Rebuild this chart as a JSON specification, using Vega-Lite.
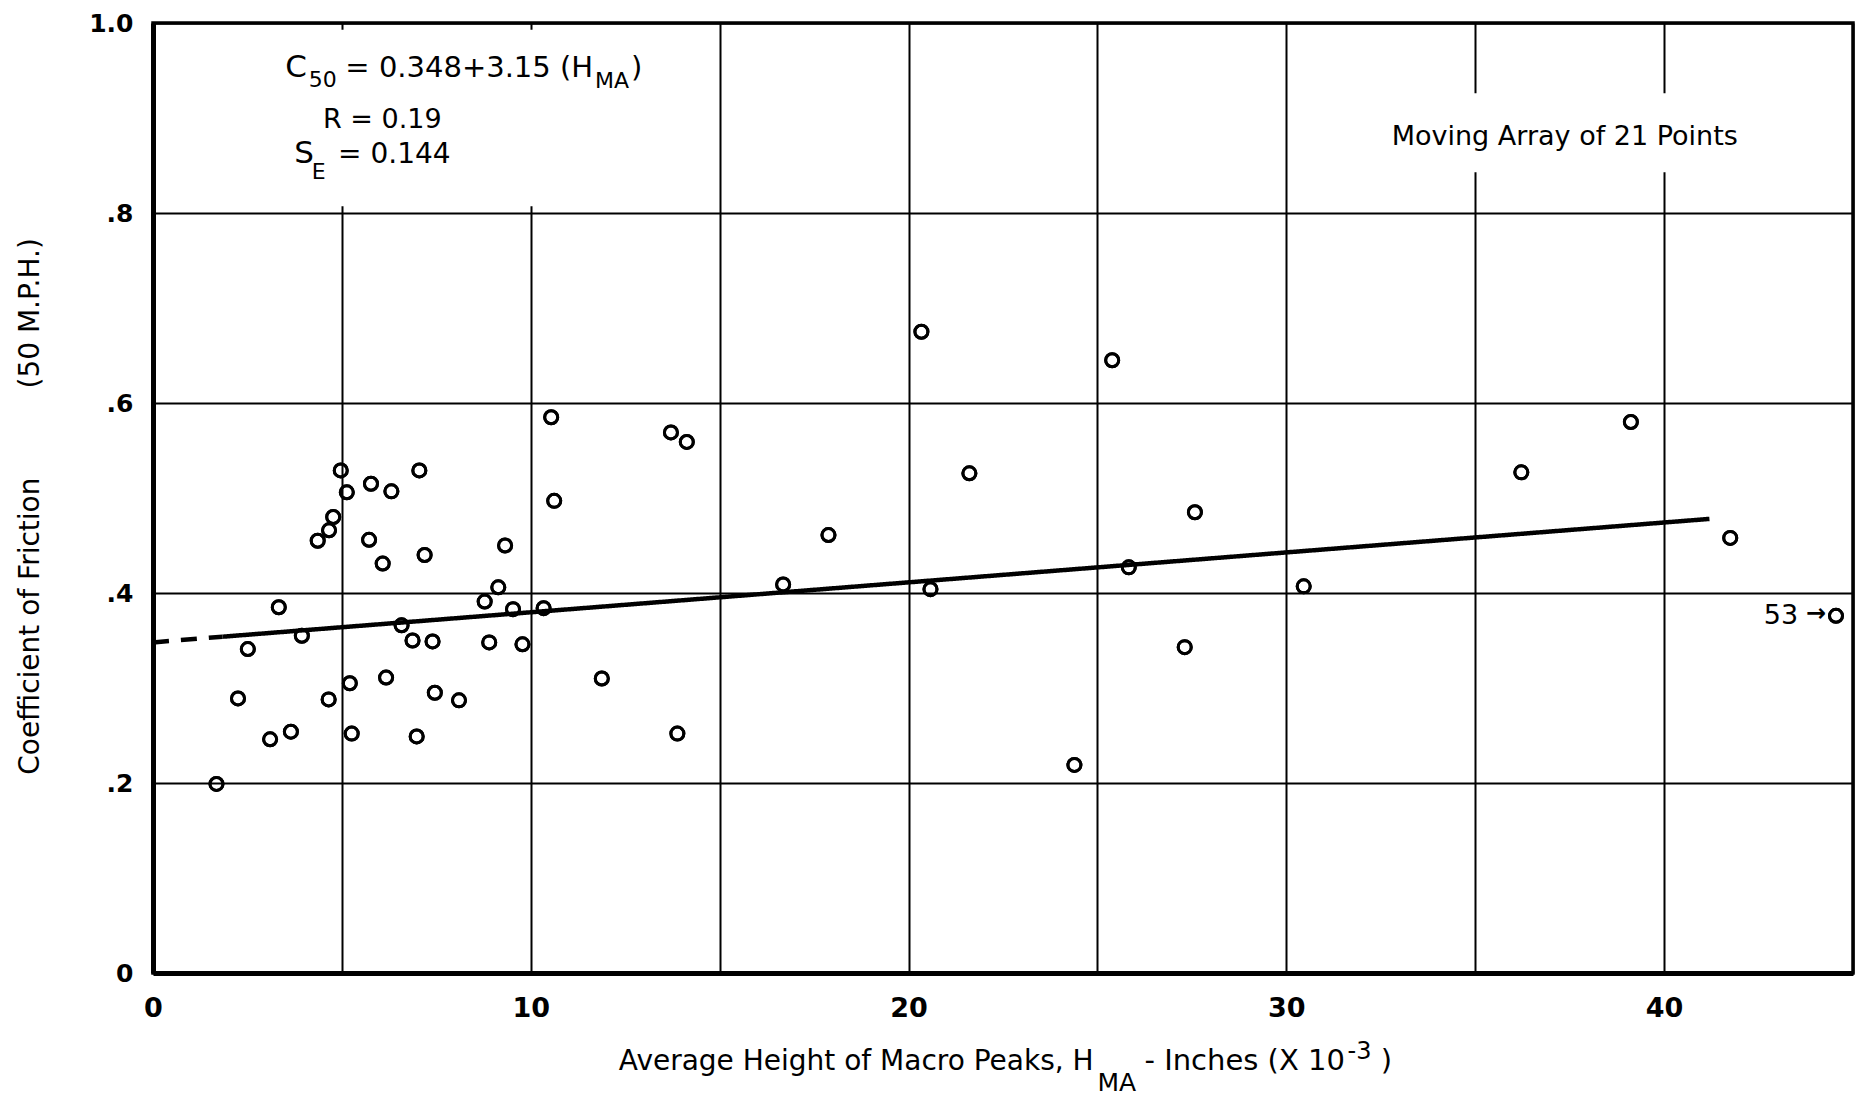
{
  "$schema": "https://vega.github.io/schema/vega-lite/v6.json",
  "width": 1700,
  "height": 950,
  "autosize": {"type": "none"},
  "padding": {"left": 153, "top": 23, "right": 13, "bottom": 127},
  "background": "white",
  "config": {
    "view": {"stroke": "black", "strokeWidth": 3.5},
    "font": "DejaVu Sans",
    "text": {"font": "DejaVu Sans", "color": "black", "baseline": "alphabetic", "align": "left"}
  },
  "datasets": {
    "points": [
      {"hma": 4.97, "cof": 0.529}, {"hma": 5.13, "cof": 0.506}, {"hma": 5.77, "cof": 0.515}, {"hma": 6.31, "cof": 0.507},
      {"hma": 7.05, "cof": 0.529}, {"hma": 10.62, "cof": 0.497}, {"hma": 10.54, "cof": 0.585}, {"hma": 4.77, "cof": 0.48},
      {"hma": 4.66, "cof": 0.466}, {"hma": 4.36, "cof": 0.455}, {"hma": 5.72, "cof": 0.456}, {"hma": 6.08, "cof": 0.431},
      {"hma": 7.19, "cof": 0.44}, {"hma": 9.32, "cof": 0.45}, {"hma": 9.14, "cof": 0.406}, {"hma": 8.78, "cof": 0.391},
      {"hma": 9.53, "cof": 0.383}, {"hma": 10.34, "cof": 0.384}, {"hma": 3.33, "cof": 0.385}, {"hma": 3.94, "cof": 0.355},
      {"hma": 2.51, "cof": 0.341}, {"hma": 6.58, "cof": 0.366}, {"hma": 6.87, "cof": 0.35}, {"hma": 7.4, "cof": 0.349},
      {"hma": 8.9, "cof": 0.348}, {"hma": 9.78, "cof": 0.346}, {"hma": 2.25, "cof": 0.289}, {"hma": 4.65, "cof": 0.288},
      {"hma": 5.21, "cof": 0.305}, {"hma": 6.17, "cof": 0.311}, {"hma": 7.46, "cof": 0.295}, {"hma": 8.1, "cof": 0.287},
      {"hma": 11.88, "cof": 0.31}, {"hma": 3.1, "cof": 0.246}, {"hma": 3.65, "cof": 0.254}, {"hma": 5.26, "cof": 0.252},
      {"hma": 6.98, "cof": 0.249}, {"hma": 1.68, "cof": 0.199},
      {"hma": 20.34, "cof": 0.675}, {"hma": 25.39, "cof": 0.645}, {"hma": 13.71, "cof": 0.569}, {"hma": 14.13, "cof": 0.559},
      {"hma": 21.61, "cof": 0.526}, {"hma": 17.88, "cof": 0.461}, {"hma": 16.68, "cof": 0.409}, {"hma": 20.58, "cof": 0.404},
      {"hma": 25.83, "cof": 0.427}, {"hma": 27.58, "cof": 0.485}, {"hma": 27.31, "cof": 0.343}, {"hma": 24.39, "cof": 0.219},
      {"hma": 13.88, "cof": 0.252},
      {"hma": 39.12, "cof": 0.58}, {"hma": 36.22, "cof": 0.527}, {"hma": 41.75, "cof": 0.458}, {"hma": 30.46, "cof": 0.407},
      {"hma": 44.55, "cof": 0.376}
    ],
    "fit": [
      {"part": "extension", "hma": 0, "cof": 0.348},
      {"part": "extension", "hma": 1.84, "cof": 0.354},
      {"part": "fit", "hma": 1.84, "cof": 0.354},
      {"part": "fit", "hma": 41.2, "cof": 0.478}
    ]
  },
  "layer": [
    {
      "data": {"name": "points"},
      "mark": {"type": "point", "shape": "circle", "filled": false, "stroke": "black", "strokeWidth": 3, "size": 170, "opacity": 1},
      "encoding": {
        "x": {
          "field": "hma", "type": "quantitative",
          "scale": {"domain": [0, 45], "nice": false, "zero": false},
          "axis": {
            "values": [0, 5, 10, 15, 20, 25, 30, 35, 40, 45],
            "labelExpr": "datum.value % 10 == 0 ? (datum.value == 0 ? '0' : format(datum.value, 'd')) : ''",
            "grid": true, "gridColor": "black", "gridWidth": 2, "gridOpacity": 1,
            "domainColor": "black", "domainWidth": 5,
            "ticks": false,
            "labelFont": "DejaVu Sans", "labelFontWeight": "bold", "labelFontSize": 27, "labelColor": "black",
            "labelPadding": 22, "labelOverlap": false, "labelFlush": false,
            "title": null
          }
        },
        "y": {
          "field": "cof", "type": "quantitative",
          "scale": {"domain": [0, 1], "nice": false, "zero": false},
          "axis": {
            "values": [0, 0.2, 0.4, 0.6, 0.8, 1.0],
            "labelExpr": "datum.value == 0 ? '0' : (datum.value == 1 ? '1.0' : replace(format(datum.value, '.1f'), '0.', '.'))",
            "grid": true, "gridColor": "black", "gridWidth": 2, "gridOpacity": 1,
            "domainColor": "black", "domainWidth": 5,
            "ticks": false,
            "labelFont": "DejaVu Sans", "labelFontWeight": "bold", "labelFontSize": 25, "labelColor": "black",
            "labelPadding": 20, "labelOverlap": false, "labelFlush": false,
            "title": "Coefficient of Friction\u00a0\u00a0\u00a0\u00a0\u00a0\u00a0\u00a0\u00a0\u00a0\u00a0(50 M.P.H.)",
            "titleFont": "DejaVu Sans", "titleFontSize": 28, "titleFontWeight": "normal", "titleColor": "black",
            "titleAngle": -90, "titleX": -123, "titleY": 483, "titleAlign": "center", "titleBaseline": "middle"
          }
        }
      }
    },
    {
      "data": {"values": [{}]},
      "mark": {"type": "rect", "fill": "white"},
      "encoding": {
        "x": {"datum": 0.2, "type": "quantitative"},
        "x2": {"datum": 14.8},
        "y": {"datum": 0.807, "type": "quantitative"},
        "y2": {"datum": 0.993}
      }
    },
    {
      "data": {"values": [{}]},
      "mark": {"type": "rect", "fill": "white"},
      "encoding": {
        "x": {"datum": 34.3, "type": "quantitative"},
        "x2": {"datum": 40.8},
        "y": {"datum": 0.843, "type": "quantitative"},
        "y2": {"datum": 0.926}
      }
    },
    {
      "data": {"name": "fit"},
      "mark": {"type": "line", "color": "black", "strokeWidth": 4.5},
      "encoding": {
        "x": {"field": "hma", "type": "quantitative"},
        "y": {"field": "cof", "type": "quantitative"},
        "detail": {"field": "part"},
        "strokeDash": {"field": "part", "type": "nominal", "scale": {"domain": ["extension", "fit"], "range": [[16, 12], [1, 0]]}, "legend": null}
      }
    },
    {
      "data": {"name": "points"},
      "mark": {"type": "point", "shape": "circle", "filled": false, "stroke": "black", "strokeWidth": 3, "size": 170, "opacity": 1},
      "encoding": {
        "x": {"field": "hma", "type": "quantitative"},
        "y": {"field": "cof", "type": "quantitative"}
      }
    },
    {"data": {"values": [{}]}, "mark": {"type": "text", "fontSize": 31}, "encoding": {"x": {"datum": 3.5, "type": "quantitative"}, "y": {"datum": 0.943, "type": "quantitative"}, "text": {"value": "C"}}},
    {"data": {"values": [{}]}, "mark": {"type": "text", "fontSize": 22}, "encoding": {"x": {"datum": 4.12, "type": "quantitative"}, "y": {"datum": 0.933, "type": "quantitative"}, "text": {"value": "50"}}},
    {"data": {"values": [{}]}, "mark": {"type": "text", "fontSize": 29, "align": "right"}, "encoding": {"x": {"datum": 11.65, "type": "quantitative"}, "y": {"datum": 0.943, "type": "quantitative"}, "text": {"value": "= 0.348+3.15 (H"}}},
    {"data": {"values": [{}]}, "mark": {"type": "text", "fontSize": 22}, "encoding": {"x": {"datum": 11.7, "type": "quantitative"}, "y": {"datum": 0.932, "type": "quantitative"}, "text": {"value": "MA"}}},
    {"data": {"values": [{}]}, "mark": {"type": "text", "fontSize": 29}, "encoding": {"x": {"datum": 12.65, "type": "quantitative"}, "y": {"datum": 0.943, "type": "quantitative"}, "text": {"value": ")"}}},
    {"data": {"values": [{}]}, "mark": {"type": "text", "fontSize": 27}, "encoding": {"x": {"datum": 4.5, "type": "quantitative"}, "y": {"datum": 0.89, "type": "quantitative"}, "text": {"value": "R = 0.19"}}},
    {"data": {"values": [{}]}, "mark": {"type": "text", "fontSize": 31}, "encoding": {"x": {"datum": 3.74, "type": "quantitative"}, "y": {"datum": 0.8526, "type": "quantitative"}, "text": {"value": "S"}}},
    {"data": {"values": [{}]}, "mark": {"type": "text", "fontSize": 22}, "encoding": {"x": {"datum": 4.2, "type": "quantitative"}, "y": {"datum": 0.836, "type": "quantitative"}, "text": {"value": "E"}}},
    {"data": {"values": [{}]}, "mark": {"type": "text", "fontSize": 28}, "encoding": {"x": {"datum": 4.9, "type": "quantitative"}, "y": {"datum": 0.8526, "type": "quantitative"}, "text": {"value": "= 0.144"}}},
    {"data": {"values": [{}]}, "mark": {"type": "text", "fontSize": 27, "align": "center"}, "encoding": {"x": {"datum": 37.37, "type": "quantitative"}, "y": {"datum": 0.872, "type": "quantitative"}, "text": {"value": "Moving Array of 21 Points"}}},
    {"data": {"values": [{}]}, "mark": {"type": "text", "fontSize": 27, "align": "right", "baseline": "middle"}, "encoding": {"x": {"datum": 43.55, "type": "quantitative"}, "y": {"datum": 0.376, "type": "quantitative"}, "text": {"value": "53"}}},
    {"data": {"values": [{}]}, "mark": {"type": "text", "fontSize": 24, "align": "center", "baseline": "middle", "fontWeight": "bold"}, "encoding": {"x": {"datum": 44.02, "type": "quantitative"}, "y": {"datum": 0.378, "type": "quantitative"}, "text": {"value": "→"}}},
    {"data": {"values": [{}]}, "mark": {"type": "text", "fontSize": 28, "align": "right"}, "encoding": {"x": {"datum": 24.9, "type": "quantitative"}, "y": {"datum": -0.102, "type": "quantitative"}, "text": {"value": "Average Height of Macro Peaks, H"}}},
    {"data": {"values": [{}]}, "mark": {"type": "text", "fontSize": 25}, "encoding": {"x": {"datum": 25.0, "type": "quantitative"}, "y": {"datum": -0.124, "type": "quantitative"}, "text": {"value": "MA"}}},
    {"data": {"values": [{}]}, "mark": {"type": "text", "fontSize": 29, "align": "right"}, "encoding": {"x": {"datum": 31.55, "type": "quantitative"}, "y": {"datum": -0.102, "type": "quantitative"}, "text": {"value": "- Inches (X 10"}}},
    {"data": {"values": [{}]}, "mark": {"type": "text", "fontSize": 24}, "encoding": {"x": {"datum": 31.62, "type": "quantitative"}, "y": {"datum": -0.09, "type": "quantitative"}, "text": {"value": "-3"}}},
    {"data": {"values": [{}]}, "mark": {"type": "text", "fontSize": 29}, "encoding": {"x": {"datum": 32.5, "type": "quantitative"}, "y": {"datum": -0.102, "type": "quantitative"}, "text": {"value": ")"}}}
  ]
}
